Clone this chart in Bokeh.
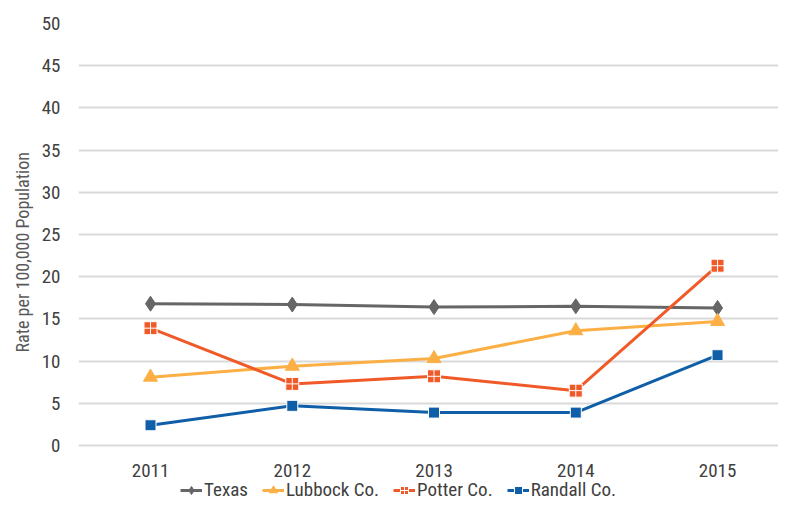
from bokeh.plotting import figure
from bokeh.models import Legend, LegendItem, FixedTicker, Range1d, Title
from bokeh.core.properties import value
from bokeh.embed import file_html
from bokeh.resources import INLINE

years = [2011, 2012, 2013, 2014, 2015]
year_labels = ["2011", "2012", "2013", "2014", "2015"]
texas = [16.8, 16.7, 16.4, 16.5, 16.3]
lubbock = [8.1, 9.4, 10.3, 13.6, 14.7]
potter = [13.9, 7.3, 8.2, 6.5, 21.3]
randall = [2.4, 4.7, 3.9, 3.9, 10.7]
y_ticks = [0, 5, 10, 15, 20, 25, 30, 35, 40, 45, 50]
y_title = "Rate per 100,000 Population"

FONT = "'Roboto Condensed', 'DejaVu Sans Condensed', 'Liberation Sans Narrow', 'Noto Sans', sans-serif"

# frame: x 78..778 px, y 23..502 px ; y=0 at 445 px, y=50 at 23 px
p = figure(x_range=Range1d(2010.492, 2015.430), y_range=Range1d(-6.754, 50),
           width=778, height=502,
           output_backend="svg", toolbar_location=None,
           min_border_left=78, min_border_right=0, min_border_top=23, min_border_bottom=0)
p.outline_line_color = None
p.background_fill_color = "white"
p.border_fill_color = "white"

series = [
    ("Texas", texas, "#666666", "diamond", 15, "#666666"),
    ("Lubbock Co.", lubbock, "#FBAF45", "triangle", 14, "#FBAF45"),
    ("Potter Co.", potter, "#F05A28", "square_cross", 13, "white"),
    ("Randall Co.", randall, "#0F5EA8", "square", 11, "white"),
]

items = []
for name, vals, color, marker, size, lc in series:
    r1 = p.line(years, vals, line_color=color, line_width=3)
    r2 = p.scatter(years, vals, marker=marker, size=size, fill_color=color,
                   line_color=lc, line_width=1)
    items.append(LegendItem(label=name, renderers=[r1, r2]))

# category labels under the zero line
p.text(x=years, y=[0] * len(years), text=year_labels, y_offset=25,
       text_font=value(FONT), text_font_size="19px", text_color="#404040",
       text_align="center", text_baseline="middle")

p.xaxis.visible = False
p.xgrid.grid_line_color = None
p.ygrid.grid_line_color = "#D9D9D9"
p.ygrid.grid_line_width = 2
p.yaxis.ticker = FixedTicker(ticks=y_ticks)

ax = p.yaxis[0]
ax.axis_line_color = None
ax.major_tick_line_color = None
ax.minor_tick_line_color = None
ax.major_label_text_font = FONT
ax.major_label_text_font_size = "19px"
ax.major_label_text_color = "#404040"
ax.major_label_standoff = 12

t = Title(text=y_title, align="left", offset=150, standoff=12,
          text_font=FONT, text_font_size="18px", text_font_style="normal",
          text_color="#595959")
p.add_layout(t, "left")

legend = Legend(items=items, orientation="horizontal", location=(102, 1))
legend.label_text_font = FONT
legend.label_text_font_size = "19px"
legend.label_text_color = "#404040"
legend.border_line_color = None
legend.background_fill_alpha = 0
legend.glyph_width = 22
legend.label_standoff = 2
legend.spacing = 14
legend.margin = 0
legend.padding = 0
p.add_layout(legend, "center")

open("out.html", "w").write(file_html(p, INLINE))
